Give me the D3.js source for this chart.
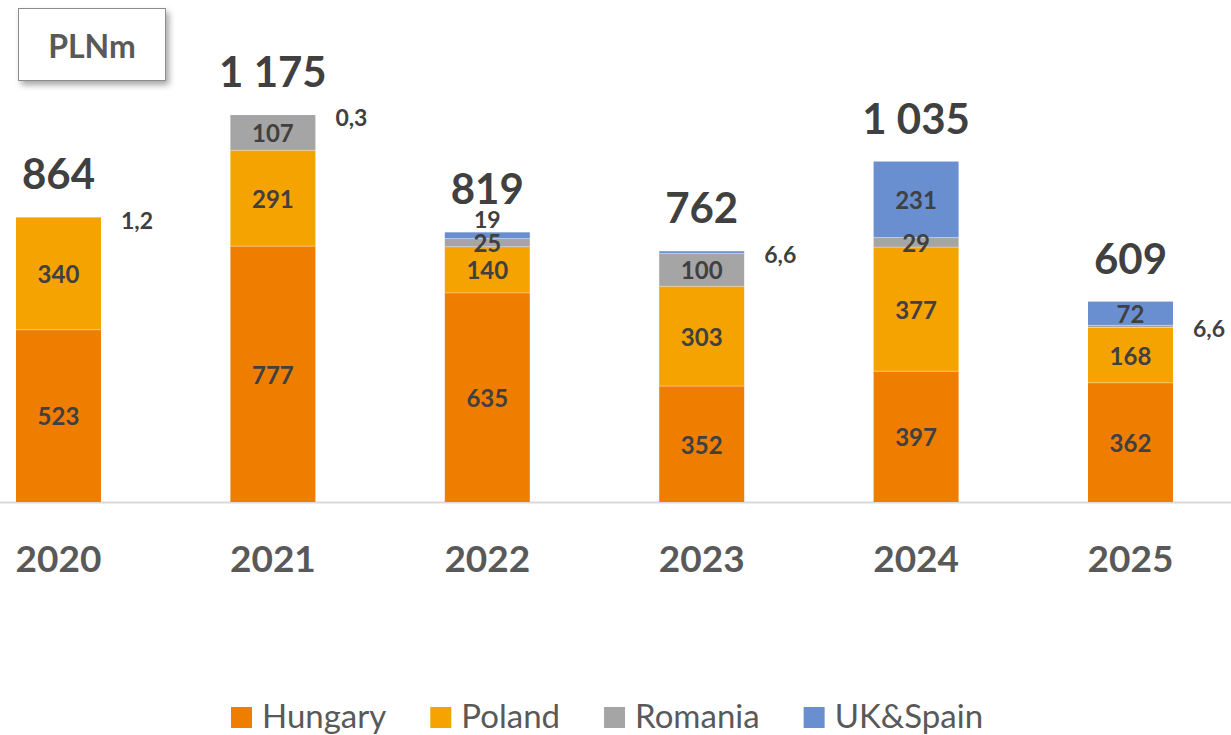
<!DOCTYPE html>
<html><head><meta charset="utf-8">
<script src="https://cdn.jsdelivr.net/npm/d3@7"></script>
<style>body{margin:0;background:#fff}svg{display:block}</style>
</head><body>
<script>
const years = ["2020","2021","2022","2023","2024","2025"];
const seriesNames = ["Hungary","Poland","Romania","UK&Spain"];
const hungary = [523, 777, 635, 352, 397, 362];
const poland = [340, 291, 140, 303, 377, 168];
const romania = [0, 107, 25, 100, 29, 6.6];
const ukSpain = [1.2, 0.3, 19, 6.6, 231, 72];
const totalLabels = ["864","1 175","819","762","1 035","609"];
const unitLabel = "PLNm";
const colors = ["#EF7D00","#F5A300","#A5A5A5","#6A8FD0"];

const W = 1231, H = 735;
const svg = d3.select("body").append("svg").attr("width", W).attr("height", H);
const font = "Lato, 'Open Sans', sans-serif";
const txt = "#404040";

const data = years.map((y,i)=>({year:y, Hungary:hungary[i], Poland:poland[i], Romania:romania[i], "UK&Spain":ukSpain[i]}));
const stacked = d3.stack().keys(seriesNames)(data);

const step = 214.4, bw = 85;
const x = d3.scaleBand().domain(years)
  .range([58.5 - step/2, 58.5 - step/2 + step*6])
  .paddingInner(1-bw/step).paddingOuter((1-bw/step)/2);
const y = d3.scaleLinear().domain([0, 1175.3]).range([502, 115]);

// axis line
svg.append("line").attr("x1",0).attr("x2",W).attr("y1",502.5).attr("y2",502.5)
  .attr("stroke","#D9D9D9").attr("stroke-width",2);

// bars
stacked.forEach((s,si)=>{
  svg.append("g").selectAll("rect").data(s).join("rect")
    .attr("x", d=>x(d.data.year))
    .attr("width", x.bandwidth())
    .attr("y", d=>y(d[1]))
    .attr("height", d=>Math.max(0, y(d[0])-y(d[1])))
    .attr("fill", colors[si]);
});
// thin separators
stacked.forEach((s,si)=>{
  if(si===0) return;
  svg.append("g").selectAll("line").data(s.filter(d=>d.data[seriesNames[si]]>2)).join("line")
    .attr("x1", d=>x(d.data.year)).attr("x2", d=>x(d.data.year)+x.bandwidth())
    .attr("y1", d=>y(d[0])).attr("y2", d=>y(d[0]))
    .attr("stroke","#ffffff").attr("stroke-opacity",0.35).attr("stroke-width",1);
});

// segment labels
const fmt = v => String(v).replace(".",",");
stacked.forEach((s,si)=>{
  const key = seriesNames[si];
  s.forEach((d,i)=>{
    const v = d.data[key];
    if(v<=0) return;
    const cx = x(d.data.year)+x.bandwidth()/2;
    const h = y(d[0])-y(d[1]);
    const isTop = si===seriesNames.length-1;
    if(v<10){
      svg.append("text").attr("x", x(d.data.year)+x.bandwidth()+20)
        .attr("y", (y(d[0])+y(d[1]))/2+2).attr("dominant-baseline","central")
        .attr("font-family",font).attr("font-weight",700).attr("font-size",23)
        .attr("fill",txt).text(fmt(v));
    } else if(isTop && h<8){
      svg.append("text").attr("x", cx).attr("y", y(d[1])-13)
        .attr("text-anchor","middle").attr("dominant-baseline","central")
        .attr("font-family",font).attr("font-weight",700).attr("font-size",23)
        .attr("fill",txt).text(fmt(v));
    } else {
      svg.append("text").attr("x", cx).attr("y", (y(d[0])+y(d[1]))/2)
        .attr("text-anchor","middle").attr("dominant-baseline","central")
        .attr("font-family",font).attr("font-weight",700).attr("font-size",24)
        .attr("fill",txt).text(fmt(v));
    }
  });
});

// totals
const last = stacked[stacked.length-1];
last.forEach((d,i)=>{
  svg.append("text").attr("x", x(d.data.year)+x.bandwidth()/2).attr("y", y(d[1])-28)
    .attr("text-anchor","middle")
    .attr("font-family",font).attr("font-weight",700).attr("font-size",42)
    .attr("fill",txt).text(totalLabels[i]);
});

// year labels
svg.append("g").selectAll("text").data(years).join("text")
  .attr("x", d=>x(d)+x.bandwidth()/2).attr("y", 557).attr("dominant-baseline","central")
  .attr("text-anchor","middle").attr("font-family",font).attr("font-weight",700)
  .attr("font-size",37).attr("fill","#595959").text(d=>d);

// unit box
const defs = svg.append("defs");
const f = defs.append("filter").attr("id","sh").attr("x","-20%").attr("y","-20%").attr("width","150%").attr("height","160%");
f.append("feDropShadow").attr("dx",3).attr("dy",4).attr("stdDeviation",3).attr("flood-color","#000").attr("flood-opacity",0.35);
svg.append("rect").attr("x",18.5).attr("y",8.5).attr("width",147).attr("height",72)
  .attr("fill","#fff").attr("stroke","#8C8C8C").attr("stroke-width",1).attr("filter","url(#sh)");
svg.append("text").attr("x",92).attr("y",45).attr("text-anchor","middle").attr("dominant-baseline","central")
  .attr("font-family",font).attr("font-weight",700).attr("font-size",32).attr("fill","#595959").text(unitLabel);

// legend
const lg = svg.append("g");
let lx = 231;
seriesNames.forEach((n,i)=>{
  lg.append("rect").attr("x",lx).attr("y",707).attr("width",21).attr("height",21).attr("fill",colors[i]);
  const t = lg.append("text").attr("x",lx+31).attr("y",728)
    .attr("font-family",font).attr("font-size",33).attr("fill","#595959").text(n);
  lx = lx + 31 + t.node().getComputedTextLength() + 44;
});
</script>
</body></html>
